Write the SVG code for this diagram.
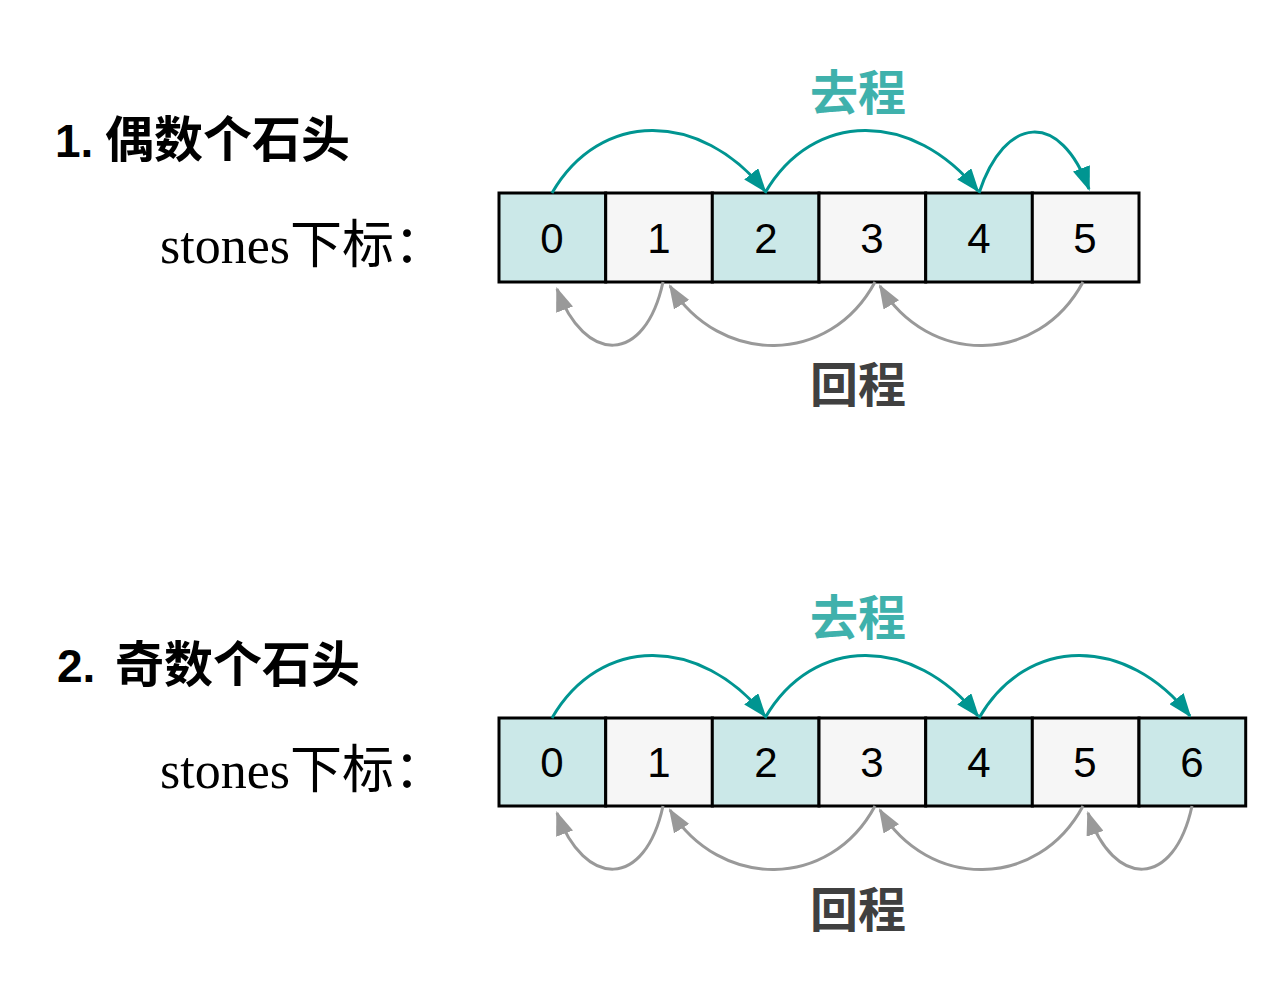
<svg xmlns="http://www.w3.org/2000/svg" width="1283" height="999" viewBox="0 0 1283 999">
<style>
.title{font-family:"Liberation Sans","Noto Sans CJK SC",sans-serif;font-weight:bold;font-size:46px;fill:#000}
.cjk{font-size:49px}
.lbl{font-family:"Liberation Serif","Noto Sans CJK SC",serif;font-size:52px;fill:#000}
.go{font-family:"Noto Sans CJK SC",sans-serif;font-weight:bold;font-size:48px;fill:#3fb1ac;text-anchor:middle}
.back{font-family:"Noto Sans CJK SC",sans-serif;font-weight:bold;font-size:48px;fill:#404040;text-anchor:middle}
.num{font-family:"Liberation Sans",sans-serif;font-size:42px;fill:#000;text-anchor:middle}
.even{fill:#cbe8e8;stroke:#000;stroke-width:3}
.odd{fill:#f6f6f6;stroke:#000;stroke-width:3}
.fwd{fill:none;stroke:#009591;stroke-width:3;marker-end:url(#ah-t)}
.bwd{fill:none;stroke:#999;stroke-width:3;marker-end:url(#ah-g)}
</style>
<defs>
<marker id="ah-t" viewBox="0 0 24 18" markerWidth="24" markerHeight="18" refX="22" refY="9" orient="auto" markerUnits="userSpaceOnUse"><path d="M0,0 L24,9 L0,18 z" fill="#009591"/></marker>
<marker id="ah-g" viewBox="0 0 24 18" markerWidth="24" markerHeight="18" refX="22" refY="9" orient="auto" markerUnits="userSpaceOnUse"><path d="M0,0 L24,9 L0,18 z" fill="#999"/></marker>
</defs>
<rect width="1283" height="999" fill="#fff"/>

<g id="section1">
<text class="title" x="55" y="157">1. <tspan class="cjk" x="105">偶数个石头</tspan></text>
<text class="lbl" x="160" y="263">stones下标：</text>
<text class="go" x="858" y="110">去程</text>
<text class="back" x="858" y="402">回程</text>
</g>
<g id="row1">
<g id="r1c0"><rect class="even" x="499" y="193" width="106.7" height="89"/><text class="num" x="552" y="253">0</text></g>
<g id="r1c1"><rect class="odd" x="605.7" y="193" width="106.7" height="89"/><text class="num" x="659" y="253">1</text></g>
<g id="r1c2"><rect class="even" x="712.3" y="193" width="106.7" height="89"/><text class="num" x="766" y="253">2</text></g>
<g id="r1c3"><rect class="odd" x="819" y="193" width="106.7" height="89"/><text class="num" x="872" y="253">3</text></g>
<g id="r1c4"><rect class="even" x="925.7" y="193" width="106.7" height="89"/><text class="num" x="979" y="253">4</text></g>
<g id="r1c5"><rect class="odd" x="1032.3" y="193" width="106.7" height="89"/><text class="num" x="1085" y="253">5</text></g>
</g>
<g id="connectors1">
<path class="fwd" d="M552,193 C600,110 700,110 765,191"/>
<path class="fwd" d="M765,193 C813,110 913,110 978,191"/>
<path class="fwd" d="M979,193 C1005,115 1060,110 1089,189"/>
<path class="bwd" d="M663,282 C645,365 585,365 557,289"/>
<path class="bwd" d="M875,282 C830,366 720,366 670,286"/>
<path class="bwd" d="M1083,282 C1038,366 928,366 880,286"/>
</g>

<g id="section2">
<text class="title" x="57" y="682">2. <tspan class="cjk" x="115">奇数个石头</tspan></text>
<text class="lbl" x="160" y="788">stones下标：</text>
<text class="go" x="858" y="635">去程</text>
<text class="back" x="858" y="927">回程</text>
</g>
<g id="row2">
<g id="r2c0"><rect class="even" x="499" y="718" width="106.7" height="88"/><text class="num" x="552" y="777">0</text></g>
<g id="r2c1"><rect class="odd" x="605.7" y="718" width="106.7" height="88"/><text class="num" x="659" y="777">1</text></g>
<g id="r2c2"><rect class="even" x="712.3" y="718" width="106.7" height="88"/><text class="num" x="766" y="777">2</text></g>
<g id="r2c3"><rect class="odd" x="819" y="718" width="106.7" height="88"/><text class="num" x="872" y="777">3</text></g>
<g id="r2c4"><rect class="even" x="925.7" y="718" width="106.7" height="88"/><text class="num" x="979" y="777">4</text></g>
<g id="r2c5"><rect class="odd" x="1032.3" y="718" width="106.7" height="88"/><text class="num" x="1085" y="777">5</text></g>
<g id="r2c6"><rect class="even" x="1139" y="718" width="106.7" height="88"/><text class="num" x="1192" y="777">6</text></g>
</g>
<g id="connectors2">
<path class="fwd" d="M552,718 C600,635 700,635 765,716"/>
<path class="fwd" d="M765,718 C813,635 913,635 978,716"/>
<path class="fwd" d="M979,718 C1027,635 1127,635 1190,716"/>
<path class="bwd" d="M663,806 C645,889 585,889 557,813"/>
<path class="bwd" d="M875,806 C830,890 720,890 670,810"/>
<path class="bwd" d="M1083,806 C1038,890 928,890 880,810"/>
<path class="bwd" d="M1192,806 C1174,889 1114,889 1088,813"/>
</g>
</svg>
